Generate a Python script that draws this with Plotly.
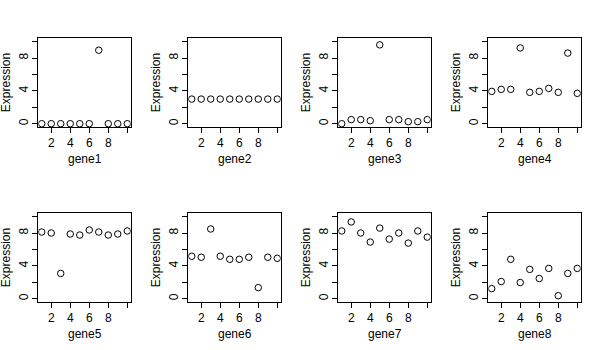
import plotly.graph_objects as go

# Expression values for samples 1..10 of each gene
samples = list(range(1, 11))
gene1 = [0, 0, 0, 0, 0, 0, 8.95, 0, 0, 0]
gene2 = [3.0, 3.0, 3.0, 3.0, 3.0, 3.0, 3.0, 3.0, 3.0, 3.0]
gene3 = [0.0, 0.5, 0.5, 0.37, 9.6, 0.5, 0.5, 0.25, 0.25, 0.5]
gene4 = [3.94, 4.18, 4.18, 9.23, 3.82, 3.94, 4.3, 3.82, 8.6, 3.7]
gene5 = [8.12, 8.0, 3.08, 7.88, 7.75, 8.37, 8.12, 7.75, 7.88, 8.25]
gene6 = [5.17, 5.05, 8.49, 5.17, 4.8, 4.8, 5.05, 1.35, 5.05, 4.92]
gene7 = [8.25, 9.35, 8.0, 6.9, 8.6, 7.26, 8.0, 6.77, 8.25, 7.5]
gene8 = [1.23, 2.09, 4.8, 1.97, 3.57, 2.46, 3.69, 0.37, 3.08, 3.69]

gene_names = ["gene1", "gene2", "gene3", "gene4", "gene5", "gene6", "gene7", "gene8"]
gene_values = [gene1, gene2, gene3, gene4, gene5, gene6, gene7, gene8]

x_tickvals = [2, 4, 6, 8, 10]
x_ticktext = ["2", "4", "6", "8", ""]
y_tickvals = [0, 2, 4, 6, 8, 10]
y_ticktext = ["0", "", "4", "", "8", ""]
y_title = "Expression"

W, H = 600, 350
FONT = dict(family="Liberation Sans, Arial, sans-serif", size=12, color="black")

fig = go.Figure()
annotations = []

# panel box in pixels, relative to each 150x175 cell
bx0, bx1 = 38.3, 130.7
by0, by1 = 38.3, 127.0

for i, (name, vals) in enumerate(zip(gene_names, gene_values)):
    col, row = i % 4, i // 4
    ox, oy = col * 150, row * 175
    xd = [(ox + bx0) / W, (ox + bx1) / W]
    yd = [1 - (oy + by1) / H, 1 - (oy + by0) / H]
    k = "" if i == 0 else str(i + 1)
    fig.add_trace(go.Scatter(
        x=samples, y=vals, mode="markers",
        marker=dict(symbol="circle-open", size=6.5, color="black",
                    line=dict(width=1, color="black")),
        xaxis="x" + k, yaxis="y" + k, showlegend=False, hoverinfo="x+y",
    ))
    fig.layout["xaxis" + k] = dict(
        domain=xd, range=[0.64, 10.36], anchor="y" + k,
        tickmode="array", tickvals=x_tickvals, ticktext=x_ticktext,
        ticks="outside", ticklen=5, tickwidth=1, tickcolor="black",
        showline=True, linecolor="black", linewidth=1, mirror=True,
        showgrid=False, zeroline=False, tickfont=FONT,
    )
    fig.layout["yaxis" + k] = dict(
        domain=yd, range=[-0.4, 10.4], anchor="x" + k,
        tickmode="array", tickvals=y_tickvals, ticktext=y_ticktext,
        ticks="outside", ticklen=5, tickwidth=1, tickcolor="black",
        tickangle=-90,
        showline=True, linecolor="black", linewidth=1, mirror=True,
        showgrid=False, zeroline=False, tickfont=FONT,
    )
    # x-axis label (gene name) below the panel
    annotations.append(dict(
        text=name, xref="paper", yref="paper",
        x=(ox + (bx0 + bx1) / 2) / W, y=1 - (oy + 159) / H,
        showarrow=False, font=FONT, xanchor="center", yanchor="middle",
    ))
    # y-axis label on the left of the panel
    annotations.append(dict(
        text=y_title, xref="paper", yref="paper",
        x=(ox + 5.5) / W, y=1 - (oy + (by0 + by1) / 2) / H,
        showarrow=False, font=FONT, textangle=-90,
        xanchor="center", yanchor="middle",
    ))

fig.update_layout(
    width=W, height=H, margin=dict(l=0, r=0, t=0, b=0),
    paper_bgcolor="white", plot_bgcolor="white",
    annotations=annotations, font=FONT,
)

fig.write_html("out.html")
